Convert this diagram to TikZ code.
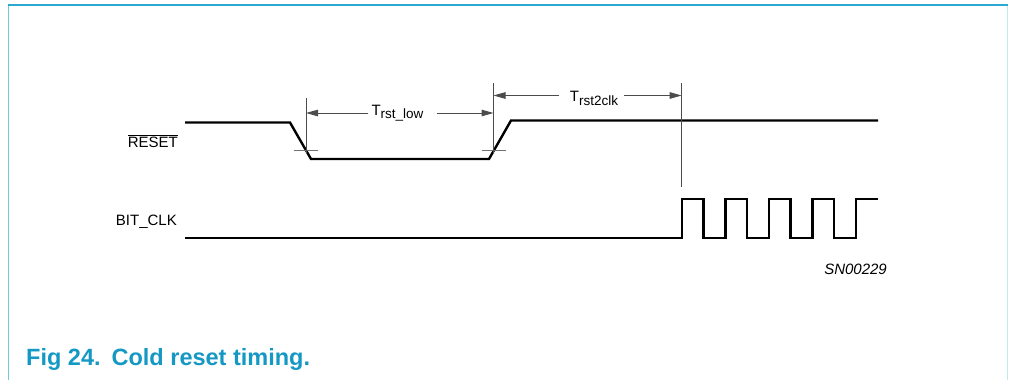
\documentclass[tikz,border=0pt]{standalone}
\usepackage{fontspec}
\setmainfont{Liberation Sans}
\usetikzlibrary{arrows.meta, calc}
\definecolor{capt}{HTML}{1598C4}
\definecolor{frametop}{HTML}{29A9CF}
\definecolor{frameleft}{HTML}{6CCBDD}
\definecolor{frameright}{HTML}{C2E9F0}
\newcommand\activelow[1]{\vbox{\hrule height 1pt\kern 1.3pt\hbox{#1}}}
\newcommand\tsub[1]{\raisebox{-3.5pt}{\fontsize{13.5}{14}\selectfont #1}}

\begin{document}
\begin{tikzpicture}[
    x=1pt, y=-1pt,
    font=\fontsize{15}{17}\selectfont,
    >={Triangle[length=12pt, width=6.5pt]},
    sig/.style={line width=2.4pt, line join=miter},
    dim/.style={line width=1pt, draw=black!70},
    tick/.style={line width=0.9pt, draw=black!55},
    sig name/.style={anchor=base east, inner sep=0pt},
    tlab/.style={inner sep=0pt},
  ]
  \useasboundingbox (0,0) rectangle (1009,380);
  % ---- frame
  \draw[frameleft, line width=1.6pt] (8.5,4) -- (8.5,380);
  \draw[frameright, line width=1.4pt] (1007.3,4) -- (1007.3,380);
  \draw[frametop, line width=2pt] (7.7,4.5) -- (1008,4.5);
  % ---- signal names
  \node[sig name] (rst) at (178,147.7) {\activelow{RESET}};
  \node[sig name] (clk) at (177,225) {BIT\_CLK};
  % ---- waveforms
  \draw[sig] (185,122.5) -- (290,122.5) -- (311,159) -- (489,159) -- (511,120.5) -- (878,120.5);
  \draw[sig] (185,238) -- (682,238)
    \foreach \k in {1,...,4} { -- ++(0,-39) -- ++(21.5,0) -- ++(0,39) -- ++(22,0) }
    -- ++(0,-39) -- (878,199);
  % ---- threshold crossings
  \coordinate (fall) at (306,150.7);
  \coordinate (rise) at (493.5,150.7);
  \coordinate (clkon) at (681.7,187);
  \draw[tick] ($(fall)+(-12,0)$) -- ($(fall)+(12,0)$);
  \draw[tick] ($(rise)+(-12,0)$) -- ($(rise)+(12,0)$);
  \draw[dim] ($(fall)+(0,2)$) -- (fall |- 0,98);
  \draw[dim] ($(rise)+(0,2)$) -- (rise |- 0,83);
  \draw[dim] (clkon) -- (clkon |- 0,83);
  % ---- timing labels
  \node[tlab] (tlow) at (397.5,113) {T\tsub{rst\_low}};
  \node[tlab] (t2clk) at (594,98.5) {T\tsub{rst2clk}};
  \draw[dim, ->] ([xshift=-3]tlow.west |- 0,113) -- (fall |- 0,113);
  \draw[dim, ->] ([xshift=13]tlow.east |- 0,113) -- (rise |- 0,113);
  \draw[dim, ->] ([xshift=-11]t2clk.west |- 0,95.5) -- (rise |- 0,95.5);
  \draw[dim, ->] ([xshift=6]t2clk.east |- 0,95.5) -- (clkon |- 0,95.5);
  % ---- drawing number and caption
  \node[sig name, font=\fontsize{15}{17}\selectfont\itshape] (num) at (887,274) {SN00229};
  \node[anchor=base west, inner sep=0pt, text=capt, font=\fontsize{23.5}{27}\selectfont\bfseries] (cap) at (26,365.7) {Fig 24.\hspace{11pt}Cold reset timing.};
\end{tikzpicture}
\end{document}
